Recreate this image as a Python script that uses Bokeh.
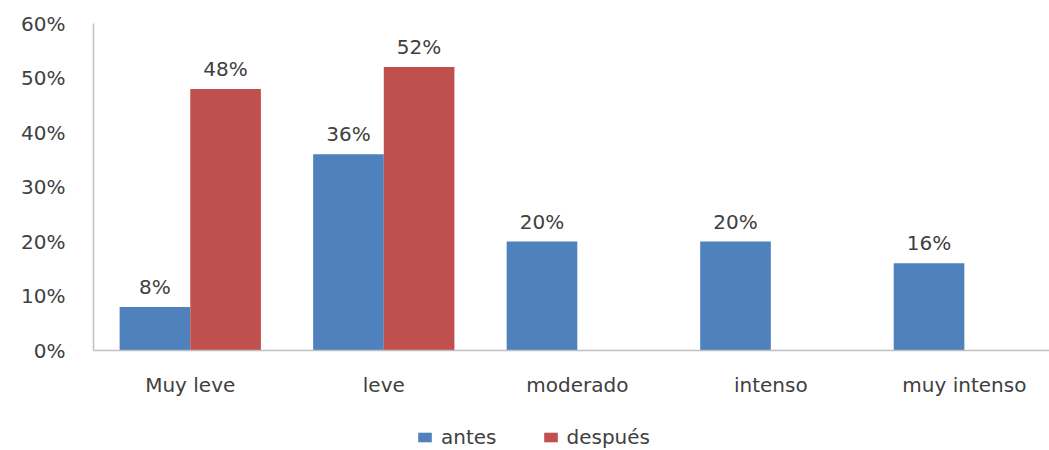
from bokeh.plotting import figure
from bokeh.models import (ColumnDataSource, Legend, LegendItem, FixedTicker, NumeralTickFormatter,
                          Range1d, LabelSet, Span)
from bokeh.core.properties import value
from bokeh.embed import file_html
from bokeh.resources import INLINE

categories = ["Muy leve", "leve", "moderado", "intenso", "muy intenso"]
antes = [0.08, 0.36, 0.20, 0.20, 0.16]
despues = [0.48, 0.52, None, None, None]
y_ticks = [0, 0.1, 0.2, 0.3, 0.4, 0.5, 0.6]

FONT = "DejaVu Sans"
FS = "20px"
TXT = "#404040"
BLUE = "#4F81BD"
RED = "#C0504D"
AXIS = "#BFBFBF"
bw = 0.365

xs = list(range(len(categories)))
src_a = ColumnDataSource(dict(x=[i - bw / 2 for i in xs], top=antes,
                              lab=[f"{round(v*100)}%" for v in antes]))
dx = [i + bw / 2 for i, v in zip(xs, despues) if v is not None]
dv = [v for v in despues if v is not None]
src_d = ColumnDataSource(dict(x=dx, top=dv, lab=[f"{round(v*100)}%" for v in dv]))
src_c = ColumnDataSource(dict(x=xs, y=[0] * len(xs), lab=categories))

FH = 426
ppu = 327 / 0.6
p = figure(frame_width=956, frame_height=FH, output_backend="svg", toolbar_location=None,
           x_range=Range1d(-0.5, 4.44), y_range=Range1d(-(FH - 327) / ppu, 0.6),
           x_axis_location=None,
           min_border_left=93, min_border_right=0, min_border_top=23, min_border_bottom=0)
p.outline_line_color = None
p.xgrid.grid_line_color = None
p.ygrid.grid_line_color = None

ra = p.vbar(x="x", top="top", width=bw, bottom=0, source=src_a, color=BLUE, line_color=None)
rd = p.vbar(x="x", top="top", width=bw, bottom=0, source=src_d, color=RED, line_color=None)
p.add_layout(Span(location=0, dimension="width", line_color=AXIS, line_width=1.5))

for s in (src_a, src_d):
    p.add_layout(LabelSet(x="x", y="top", text="lab", source=s, text_align="center",
                          text_baseline="bottom", y_offset=8, text_font=value(FONT),
                          text_font_size=FS, text_color=TXT))
p.add_layout(LabelSet(x="x", y="y", text="lab", source=src_c, text_align="center",
                      text_baseline="middle", y_offset=-34, text_font=value(FONT),
                      text_font_size=FS, text_color=TXT))

p.yaxis.ticker = FixedTicker(ticks=y_ticks)
p.yaxis.formatter = NumeralTickFormatter(format="0%")
p.yaxis.bounds = (0, 0.6)
p.yaxis.axis_line_color = AXIS
p.yaxis.axis_line_width = 1.5
p.yaxis.major_tick_line_color = None
p.yaxis.minor_tick_line_color = None
p.yaxis.major_label_text_font = FONT
p.yaxis.major_label_text_font_size = FS
p.yaxis.major_label_text_color = TXT
p.yaxis.major_label_standoff = 22

legend = Legend(items=[LegendItem(label="antes", renderers=[ra]),
                       LegendItem(label="después", renderers=[rd])],
                orientation="horizontal", location=(323, 0),
                label_text_font=FONT, label_text_font_size=FS, label_text_color=TXT,
                glyph_width=17, glyph_height=12, spacing=45, label_standoff=8,
                border_line_color=None, background_fill_alpha=0, padding=0, margin=0)
p.add_layout(legend)

open("out.html", "w").write(file_html(p, INLINE))
